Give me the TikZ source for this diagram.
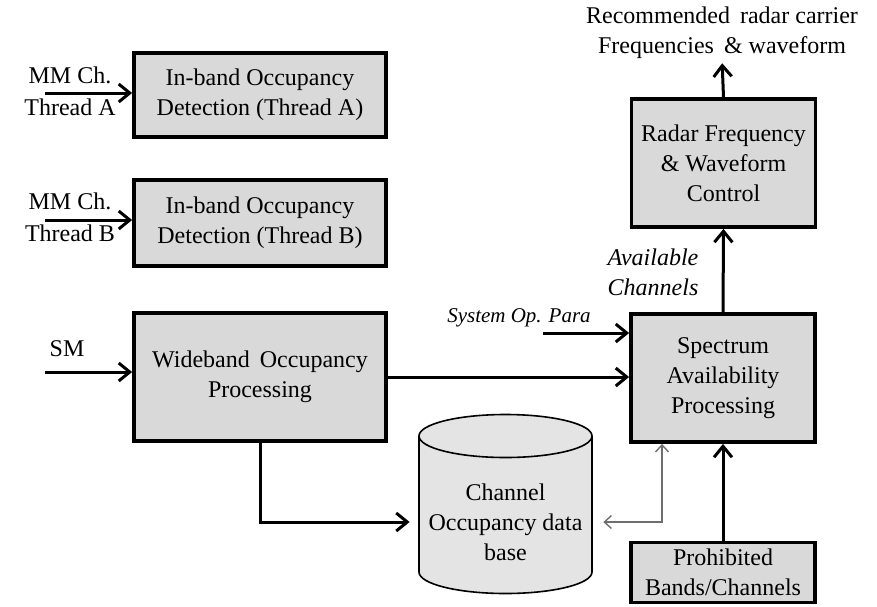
\documentclass[tikz,border=0pt]{standalone}
\usepackage{fontspec}
\setmainfont{Liberation Serif}
\usetikzlibrary{arrows.meta}
\usetikzlibrary{positioning}
\definecolor{boxgray}{HTML}{D9D9D9}
\definecolor{cylgray}{HTML}{E4E4E4}
\definecolor{linkgray}{HTML}{6E6E6E}
\tikzset{blk/.style={draw, line width=1.9pt, fill=boxgray, align=center,
inner sep=0pt, font=\fontsize{12}{15}\selectfont},
lbl/.style={align=center, inner sep=0pt, font=\fontsize{12}{16}\selectfont},
ilbl/.style={align=center, inner sep=0pt, font=\fontsize{12}{15}\selectfont\itshape},
thk/.style={line width=1.5pt, -{Straight Barb[length=5.5pt,width=9pt]}},
gry/.style={line width=0.7pt, draw=linkgray, {Straight Barb[length=3.5pt,width=6.5pt]}-{Straight Barb[length=3.5pt,width=6.5pt]}}}

\begin{document}
\begin{tikzpicture}[x=0.5pt, y=-0.5pt]
	\useasboundingbox (0,0) rectangle (877,606);
	% left column
	\node[blk, minimum width=126pt, minimum height=42pt] (detA) at (260,95) {In-band Occupancy\\Detection (Thread A)};
	\node[blk, minimum width=126pt, minimum height=43pt] (detB) at (260,223) {In-band Occupancy\\Detection (Thread B)};
	\node[blk, minimum width=126pt, minimum height=64pt] (wide) at (260,377) {Wideband\ \,Occupancy\\Processing};
	% right column
	\node[blk, minimum width=92pt, minimum height=64pt] (radar) at (723.5,163) {Radar Frequency\\\& Waveform\\Control};
	\node[blk, minimum width=92pt, minimum height=64pt] (spec) at (723,378) {Spectrum\\Availability\\Processing};
	\node[blk, minimum width=92pt, minimum height=30pt] (prohib) at (723,572.5) {Prohibited\\Bands/Channels};
	% data base
	\draw[line width=0.8pt, fill=cylgray] (419,436) -- (419,572) arc[start angle=180, end angle=0, x radius=86.5, y radius=21.5] -- (592,436);
	\draw[line width=0.8pt, fill=cylgray] (505.5,436) ellipse [x radius=86.5, y radius=21.5];
	\node[lbl, font=\fontsize{12}{15}\selectfont, minimum width=86.5pt] (db) at (505.5,522) {Channel\\Occupancy data\\base};
	% texts
	\node[lbl] (labA) at (70,91) {MM Ch.\\Thread A};
	\node[lbl] (labB) at (70,217) {MM Ch.\\Thread B};
	\node[lbl] (labSM) at (67,349) {SM};
	\node[ilbl, font=\fontsize{10.5}{13}\selectfont\itshape] (sys) at (519,318) {System Op. Para};
	\node[ilbl] (avail) at (653,272) {Available\\Channels};
	\node[lbl, font=\fontsize{12}{15}\selectfont] (rec) at (722,33) {Recommended\ \,radar carrier\\Frequencies \,\& waveform};
	\coordinate (inA) at (45,93);
	\coordinate (inB) at (45,220);
	\coordinate (inSM) at (45,372);
	\coordinate (sysin) at (543,333);
	\coordinate (gk) at (662,522);
	% connectors
	\draw[thk] (inA) -- (inA -| detA.west);
	\draw[thk] (inB) -- (inB -| detB.west);
	\draw[thk] (inSM) -- (inSM -| wide.west);
	\draw[thk] (wide.east) -- (wide.east -| spec.west);
	\draw[thk] (sysin) -- (sysin -| spec.west);
	\draw[thk, shorten >=4.5pt] (wide.south) |- (db.west);
	\draw[gry, shorten <=5.5pt] (db.east) -| (gk |- spec.south);
	\draw[thk] (prohib.north) -- (spec.south);
	\draw[thk] (spec.north) -- (radar.south);
	\draw[thk, shorten >=2pt] (radar.north) -- (rec.south);
\end{tikzpicture}
\end{document}
